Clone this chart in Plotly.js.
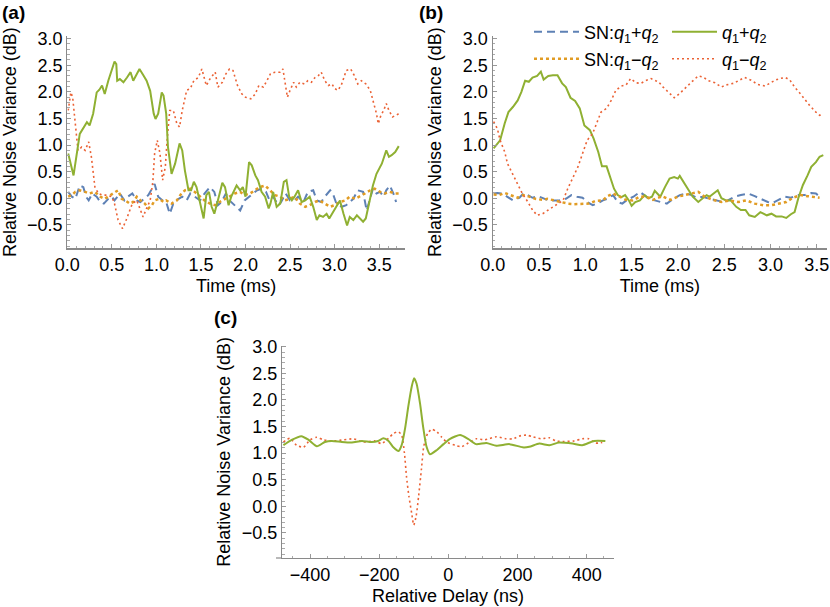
<!DOCTYPE html>
<html>
<head>
<meta charset="utf-8">
<script src="https://cdn.plot.ly/plotly-3.0.1.min.js"></script>
<style>html,body{margin:0;padding:0;background:#fff;}#chart{width:830px;height:607px;}</style>
</head>
<body>
<div id="chart"></div>
<script>
// ---------- Panel (a) ----------
const aGreenT = [0.01,0.07,0.14,0.20,0.22,0.25,0.29,0.33,0.36,0.39,0.42,0.46,0.49,0.53,0.55,0.56,0.59,0.63,0.67,0.71,0.74,0.78,0.81,0.85,0.89,0.93,0.97,0.99,1.02,1.06,1.08,1.11,1.13,1.17,1.21,1.26,1.29,1.32,1.36,1.39,1.42,1.45,1.49,1.53,1.56,1.59,1.62,1.65,1.69,1.74,1.77,1.81,1.84,1.90,1.94,1.97,2.00,2.04,2.07,2.11,2.14,2.18,2.22,2.26,2.28,2.31,2.35,2.39,2.43,2.46,2.49,2.52,2.55,2.59,2.63,2.67,2.72,2.76,2.80,2.83,2.87,2.91,2.94,2.98,3.02,3.06,3.10,3.14,3.17,3.21,3.25,3.28,3.32,3.35,3.39,3.43,3.47,3.53,3.58,3.61,3.64,3.68,3.72];
const aGreenV = [0.84,0.43,1.21,1.37,1.43,1.37,1.59,1.99,2.04,2.12,1.96,2.21,2.37,2.57,2.52,2.21,2.24,2.18,2.27,2.37,2.21,2.34,2.43,2.32,2.21,2.02,1.59,1.49,1.59,1.99,1.93,1.59,0.96,0.46,0.65,1.03,0.90,0.52,0.15,0.15,0.31,0.21,-0.10,-0.38,0.06,0.12,-0.16,-0.29,-0.04,0.29,0.21,-0.13,0.03,0.24,0.15,0.21,0.03,0.68,0.62,0.43,0.34,0.12,0.03,-0.19,-0.10,0.12,-0.16,-0.10,0.31,0.34,0.03,-0.04,0.03,0.15,-0.07,-0.04,0.03,-0.16,-0.41,-0.32,-0.35,-0.29,-0.38,-0.26,-0.16,-0.04,-0.29,-0.51,-0.35,-0.41,-0.32,-0.38,-0.44,-0.38,-0.04,0.24,0.46,0.65,0.90,0.78,0.81,0.87,0.98];

const aRedT = [0.01,0.04,0.06,0.09,0.12,0.16,0.20,0.24,0.27,0.31,0.35,0.39,0.44,0.50,0.53,0.57,0.62,0.66,0.70,0.73,0.78,0.82,0.85,0.89,0.93,0.96,0.98,1.01,1.04,1.07,1.10,1.12,1.15,1.19,1.23,1.26,1.29,1.34,1.38,1.42,1.47,1.51,1.56,1.60,1.66,1.69,1.74,1.78,1.82,1.86,1.91,1.96,2.00,2.06,2.11,2.15,2.20,2.24,2.28,2.33,2.39,2.42,2.44,2.47,2.50,2.54,2.57,2.61,2.66,2.70,2.74,2.78,2.82,2.85,2.89,2.93,2.97,3.00,3.04,3.08,3.13,3.18,3.22,3.26,3.30,3.35,3.40,3.43,3.47,3.49,3.52,3.55,3.58,3.61,3.65,3.69,3.72];
const aRedV = [1.65,1.99,1.90,1.46,0.90,0.96,0.90,1.06,0.78,0.21,0.09,0.06,0.06,0.03,-0.10,-0.41,-0.57,-0.41,-0.23,-0.10,-0.04,-0.23,-0.35,-0.19,-0.04,0.31,0.84,1.09,0.84,0.34,0.59,1.09,1.65,1.65,1.40,1.34,1.65,2.03,2.06,2.21,2.27,2.43,2.12,2.24,2.37,2.09,2.18,2.34,2.43,2.40,2.12,1.96,1.90,1.87,1.96,2.12,2.09,2.21,2.34,2.37,2.37,2.43,2.21,1.90,2.03,2.18,2.09,2.18,2.15,2.21,2.18,2.27,2.31,2.37,2.21,2.12,2.15,2.06,2.03,2.15,2.40,2.43,2.31,2.15,2.21,2.15,2.03,1.84,1.59,1.40,1.56,1.65,1.78,1.65,1.53,1.56,1.59];

const aBlueT = [0.01,0.05,0.09,0.14,0.18,0.21,0.24,0.28,0.33,0.37,0.41,0.46,0.50,0.53,0.59,0.64,0.68,0.73,0.78,0.82,0.86,0.91,0.96,0.98,1.02,1.07,1.11,1.15,1.19,1.25,1.29,1.34,1.38,1.43,1.49,1.54,1.60,1.65,1.69,1.73,1.78,1.82,1.88,1.94,1.99,2.04,2.09,2.13,2.18,2.23,2.27,2.31,2.37,2.40,2.45,2.50,2.55,2.59,2.65,2.70,2.76,2.80,2.85,2.89,2.95,2.98,3.02,3.08,3.13,3.21,3.26,3.32,3.36,3.40,3.43,3.47,3.51,3.55,3.58,3.62,3.66,3.69];
const aBlueV = [0.12,0.03,-0.01,0.24,0.21,0.03,-0.04,0.09,0.03,-0.07,-0.10,-0.01,0.03,-0.04,0.09,-0.04,0.03,0.09,-0.04,-0.07,-0.01,0.06,0.21,0.27,0.03,-0.04,-0.07,-0.29,-0.10,-0.01,0.03,-0.04,0.09,0.03,-0.04,0.09,0.21,0.12,-0.13,-0.07,0.09,-0.04,-0.13,-0.23,-0.04,0.03,0.09,0.15,0.18,0.12,-0.04,0.03,-0.13,-0.07,0.09,-0.04,-0.04,0.03,-0.07,0.12,0.15,-0.04,-0.07,0.03,0.15,0.09,-0.10,-0.16,-0.13,-0.01,0.15,0.12,-0.23,-0.01,0.18,0.09,0.12,0.03,0.15,0.24,0.09,-0.07];

const aOrangeT = [0.01,0.05,0.09,0.14,0.20,0.25,0.31,0.37,0.42,0.48,0.53,0.57,0.61,0.65,0.70,0.74,0.78,0.82,0.87,0.91,0.95,0.98,1.03,1.08,1.11,1.17,1.23,1.28,1.32,1.38,1.43,1.49,1.54,1.60,1.66,1.71,1.77,1.82,1.88,1.94,1.99,2.05,2.11,2.16,2.22,2.27,2.33,2.39,2.44,2.50,2.55,2.61,2.67,2.72,2.78,2.83,2.89,2.95,3.00,3.06,3.12,3.17,3.23,3.28,3.34,3.40,3.45,3.51,3.56,3.62,3.68,3.72];
const aOrangeV = [0.03,0.06,0.12,0.15,0.12,0.09,0.12,0.03,-0.01,0.06,0.12,0.15,-0.01,-0.04,-0.10,-0.07,0.03,-0.04,-0.10,-0.19,-0.13,-0.04,-0.01,-0.07,-0.04,-0.10,-0.04,0.09,0.15,0.18,0.12,0.03,-0.04,-0.10,-0.13,-0.07,-0.01,0.03,0.09,0.12,0.06,0.09,0.15,0.21,0.24,0.15,0.06,0.03,-0.04,-0.01,0.03,-0.10,-0.16,-0.13,-0.07,-0.04,-0.10,-0.16,-0.13,-0.07,-0.04,0.03,-0.01,0.03,0.09,0.15,0.18,0.12,0.09,0.12,0.09,0.09];

// ---------- Panel (b) ----------
const bGreenT = [0.01,0.08,0.13,0.17,0.22,0.27,0.31,0.35,0.39,0.43,0.48,0.52,0.55,0.60,0.65,0.70,0.75,0.79,0.84,0.89,0.94,0.99,1.05,1.09,1.14,1.18,1.23,1.26,1.31,1.35,1.39,1.43,1.47,1.50,1.54,1.59,1.64,1.68,1.72,1.75,1.81,1.86,1.91,1.96,2.00,2.02,2.06,2.11,2.16,2.22,2.27,2.31,2.34,2.39,2.43,2.47,2.52,2.57,2.63,2.68,2.73,2.77,2.83,2.89,2.96,3.01,3.06,3.12,3.17,3.22,3.26,3.30,3.35,3.40,3.44,3.49,3.53,3.57];
const bGreenV = [0.94,1.09,1.41,1.62,1.72,1.84,2.00,2.21,2.19,2.27,2.30,2.38,2.23,2.30,2.31,2.31,2.16,2.09,1.89,1.83,1.69,1.37,1.28,1.12,0.87,0.60,0.60,0.43,0.18,0.06,0.02,0.06,-0.04,-0.14,-0.07,-0.04,0.06,0.00,0.03,0.14,0.03,0.21,0.37,0.40,0.37,0.42,0.31,0.15,0.03,-0.07,0.00,0.06,0.03,0.10,0.15,0.00,-0.04,-0.04,-0.16,-0.22,-0.22,-0.32,-0.35,-0.26,-0.32,-0.29,-0.34,-0.34,-0.37,-0.30,-0.26,0.00,0.25,0.43,0.59,0.68,0.78,0.81];

const bRedT = [0.01,0.05,0.08,0.13,0.16,0.22,0.27,0.32,0.38,0.43,0.48,0.54,0.60,0.65,0.70,0.76,0.81,0.86,0.92,0.97,1.02,1.08,1.12,1.17,1.23,1.28,1.33,1.39,1.44,1.49,1.55,1.60,1.65,1.71,1.76,1.79,1.84,1.89,1.96,2.02,2.07,2.15,2.22,2.27,2.33,2.40,2.47,2.52,2.60,2.65,2.72,2.79,2.86,2.94,2.99,3.05,3.10,3.16,3.21,3.26,3.32,3.37,3.42,3.49,3.53,3.57];
const bRedV = [1.44,1.31,1.09,0.87,0.65,0.43,0.25,0.09,-0.07,-0.22,-0.32,-0.29,-0.22,-0.16,-0.10,-0.04,0.18,0.37,0.59,0.84,1.09,1.22,1.41,1.62,1.69,1.84,2.03,2.11,2.13,2.25,2.17,2.16,2.21,2.25,2.21,2.19,2.09,2.00,1.89,1.97,2.06,2.19,2.30,2.28,2.21,2.17,2.09,2.13,2.16,2.21,2.27,2.22,2.14,2.11,2.16,2.22,2.25,2.27,2.22,2.09,1.97,1.86,1.75,1.62,1.56,1.58];

const bBlueT = [0.01,0.05,0.10,0.16,0.22,0.29,0.33,0.38,0.43,0.49,0.54,0.59,0.65,0.72,0.79,0.85,0.91,0.97,1.02,1.08,1.14,1.19,1.24,1.30,1.35,1.40,1.45,1.52,1.59,1.64,1.69,1.75,1.81,1.88,1.95,2.02,2.09,2.15,2.20,2.27,2.34,2.42,2.49,2.54,2.61,2.68,2.76,2.83,2.90,2.97,3.02,3.08,3.15,3.22,3.29,3.37,3.44,3.49,3.53];
const bBlueV = [0.09,0.10,0.09,0.03,-0.04,0.01,0.09,0.06,0.01,0.04,0.01,-0.03,-0.04,-0.04,-0.01,0.06,0.03,0.01,-0.07,-0.13,-0.09,-0.04,-0.01,0.06,-0.07,-0.10,-0.03,0.03,0.12,0.06,-0.01,-0.04,-0.07,-0.10,-0.01,0.06,0.09,0.06,0.01,0.03,-0.01,-0.04,-0.07,-0.04,0.03,0.06,0.09,0.04,-0.01,-0.07,-0.09,-0.04,0.03,0.01,0.06,0.06,0.10,0.09,0.03];

const bOrangeT = [0.01,0.07,0.13,0.21,0.27,0.33,0.38,0.46,0.54,0.59,0.67,0.74,0.81,0.88,0.97,1.04,1.11,1.19,1.24,1.30,1.37,1.44,1.51,1.59,1.66,1.73,1.83,1.92,2.00,2.07,2.15,2.22,2.29,2.38,2.47,2.56,2.65,2.74,2.83,2.92,3.01,3.10,3.17,3.24,3.33,3.40,3.46,3.53];
const bOrangeV = [0.07,0.06,0.10,0.04,0.01,0.06,0.04,-0.01,-0.03,-0.01,-0.04,-0.07,-0.10,-0.11,-0.10,-0.10,-0.05,-0.04,0.04,0.09,0.03,-0.03,-0.04,0.03,0.03,-0.03,0.04,-0.03,0.03,0.06,0.09,0.12,0.03,-0.03,-0.07,-0.04,-0.07,-0.04,-0.10,-0.13,-0.13,-0.10,-0.07,0.01,0.06,0.04,0.03,0.01];

// ---------- Panel (c) ----------
const cGreenD = [-477,-453,-425,-404,-380,-357,-337,-308,-279,-250,-222,-203,-188,-173,-159,-144,-135,-125,-116,-106,-99,-92,-82,-73,-63,-53,-33,-14,5,34,57,80,110,139,177,215,234,263,292,320,359,387,421,454];
const cGreenV = [1.15,1.25,1.32,1.25,1.13,1.21,1.23,1.21,1.20,1.23,1.21,1.23,1.28,1.23,1.11,1.04,1.15,1.47,1.87,2.25,2.41,2.31,1.94,1.50,1.12,0.98,1.06,1.17,1.27,1.34,1.27,1.17,1.19,1.14,1.17,1.11,1.12,1.18,1.15,1.20,1.18,1.15,1.23,1.23];

const cRedD = [-477,-458,-439,-419,-400,-380,-361,-332,-303,-274,-246,-212,-193,-173,-159,-144,-135,-127,-121,-114,-106,-100,-93,-86,-78,-71,-60,-48,-33,-19,-5,19,38,62,81,105,139,167,186,210,225,244,268,292,311,335,364,387,406,426,445];
const cRedV = [1.21,1.28,1.15,1.11,1.25,1.30,1.25,1.23,1.25,1.27,1.21,1.23,1.18,1.28,1.37,1.40,1.34,1.00,0.56,0.19,-0.13,-0.35,-0.18,0.19,0.69,1.13,1.37,1.45,1.40,1.30,1.21,1.15,1.12,1.21,1.27,1.25,1.31,1.27,1.27,1.33,1.34,1.31,1.27,1.29,1.23,1.22,1.23,1.27,1.27,1.19,1.20];

// ---------- Labels ----------
const nameSNplus = 'SN:<i>q</i><sub>1</sub>+<i>q</i><sub>2</sub>';
const nameSNminus = 'SN:<i>q</i><sub>1</sub>\u2212<i>q</i><sub>2</sub>';
const namePlus = '<i>q</i><sub>1</sub>+<i>q</i><sub>2</sub>';
const nameMinus = '<i>q</i><sub>1</sub>\u2212<i>q</i><sub>2</sub>';
const yTitle = 'Relative Noise Variance (dB)';
const xTitleTime = 'Time (ms)';
const xTitleDelay = 'Relative Delay (ns)';

const F = 'Liberation Sans, Arial, sans-serif';
const C = {blue:'#5E81B5', orange:'#E19C24', green:'#8FB032', red:'#EB6235'};
const st = {
  blue:   {color:C.blue, width:2, dash:'8px,5px'},
  orange: {color:C.orange, width:2.5, dash:'3px,3px'},
  green:  {color:C.green, width:2},
  red:    {color:C.red, width:1.6, dash:'2px,3px'}
};

function tr(x, y, line, xa, ya, opts) {
  return Object.assign({x:x, y:y, type:'scatter', mode:'lines', line:line, xaxis:xa, yaxis:ya, showlegend:false, hoverinfo:'skip'}, opts||{});
}

const data = [
  tr(aBlueT, aBlueV, st.blue, 'x', 'y'),
  tr(aOrangeT, aOrangeV, st.orange, 'x', 'y'),
  tr(aRedT, aRedV, st.red, 'x', 'y'),
  tr(aGreenT, aGreenV, st.green, 'x', 'y'),

  tr(bBlueT, bBlueV, st.blue, 'x2', 'y2', {name:nameSNplus, showlegend:true, legend:'legend'}),
  tr(bGreenT, bGreenV, st.green, 'x2', 'y2', {name:namePlus, showlegend:true, legend:'legend'}),
  tr(bOrangeT, bOrangeV, st.orange, 'x2', 'y2', {name:nameSNminus, showlegend:true, legend:'legend2'}),
  tr(bRedT, bRedV, st.red, 'x2', 'y2', {name:nameMinus, showlegend:true, legend:'legend2'}),

  tr(cRedD, cRedV, Object.assign({shape:'spline', smoothing:0.6}, st.red), 'x3', 'y3'),
  tr(cGreenD, cGreenV, Object.assign({shape:'spline', smoothing:0.6}, st.green), 'x3', 'y3')
];

const W = 830, H = 607;
function px(a,b){return [a/W, b/W];}
function py(top,bottom){return [(H-bottom)/H, (H-top)/H];}

const axisColor = '#8a8a8a';
function axisBase(extra) {
  return Object.assign({
    showline:true, linecolor:axisColor, linewidth:1.2,
    ticks:'inside', ticklen:4, tickwidth:1, tickcolor:'#999',
    showgrid:false, zeroline:false,
    tickfont:{family:F, size:18, color:'#000'},
    fixedrange:true
  }, extra);
}
function yAxis(domain, range, anchor) {
  return axisBase({domain:domain, range:range, anchor:anchor, dtick:0.5, tick0:0, tickformat:'.1f',
    minor:{ticks:'inside', ticklen:2.5, tickcolor:'#aaa', dtick:0.1, tick0:0},
    title:{text:yTitle, font:{family:F, size:18, color:'#000'}, standoff:6}});
}
function xAxis(domain, range, anchor, dtick, minorDtick, fmt, title, standoff) {
  return axisBase({domain:domain, range:range, anchor:anchor, dtick:dtick, tick0:0, tickformat:fmt,
    minor:{ticks:'inside', ticklen:2.5, tickcolor:'#aaa', dtick:minorDtick, tick0:0},
    title:{text:title, font:{family:F, size:18, color:'#000'}, standoff:standoff}});
}

const legendBase = {xanchor:'left', yanchor:'middle', orientation:'h', bgcolor:'rgba(0,0,0,0)',
  font:{family:F, size:18, color:'#000'}, itemwidth:45, entrywidth:78, tracegroupgap:0,
  itemclick:false, itemdoubleclick:false};

const layout = {
  width:W, height:H,
  margin:{l:0, r:0, t:0, b:0},
  paper_bgcolor:'#fff', plot_bgcolor:'rgba(0,0,0,0)',
  font:{family:F, color:'#000'},
  xaxis:  xAxis(px(67.3,405), [0,3.79], 'y', 0.5, 0.1, '.1f', xTitleTime, 5),
  yaxis:  yAxis(py(36,248.3), [-0.94,3.05], 'x'),
  xaxis2: xAxis(px(492.7,827), [0,3.61], 'y2', 0.5, 0.1, '.1f', xTitleTime, 5),
  yaxis2: yAxis(py(36,248.3), [-0.94,3.05], 'x2'),
  xaxis3: xAxis(px(282,614), [-481,479], 'y3', 200, 50, 'd', xTitleDelay, 5),
  yaxis3: yAxis(py(345.7,558), [-0.97,3.02], 'x3'),
  legend:  Object.assign({x:529/W, y:1-32/H}, legendBase),
  legend2: Object.assign({x:529/W, y:1-59/H}, legendBase),
  shapes:[
    {type:'line', xref:'paper', yref:'paper', x0:276/W, x1:282/W, y0:(H-558)/H, y1:(H-558)/H, line:{color:axisColor, width:1.2}}
  ],
  annotations:[
    {text:'<b>(a)</b>', x:0, y:1, xref:'paper', yref:'paper', xanchor:'left', yanchor:'top', showarrow:false, font:{family:F, size:19, color:'#000'}},
    {text:'<b>(b)</b>', x:417/W, y:1, xref:'paper', yref:'paper', xanchor:'left', yanchor:'top', showarrow:false, font:{family:F, size:19, color:'#000'}},
    {text:'<b>(c)</b>', x:212/W, y:1-305/H, xref:'paper', yref:'paper', xanchor:'left', yanchor:'top', showarrow:false, font:{family:F, size:19, color:'#000'}}
  ]
};

Plotly.newPlot('chart', data, layout, {displayModeBar:false, staticPlot:true});
</script>
</body>
</html>
